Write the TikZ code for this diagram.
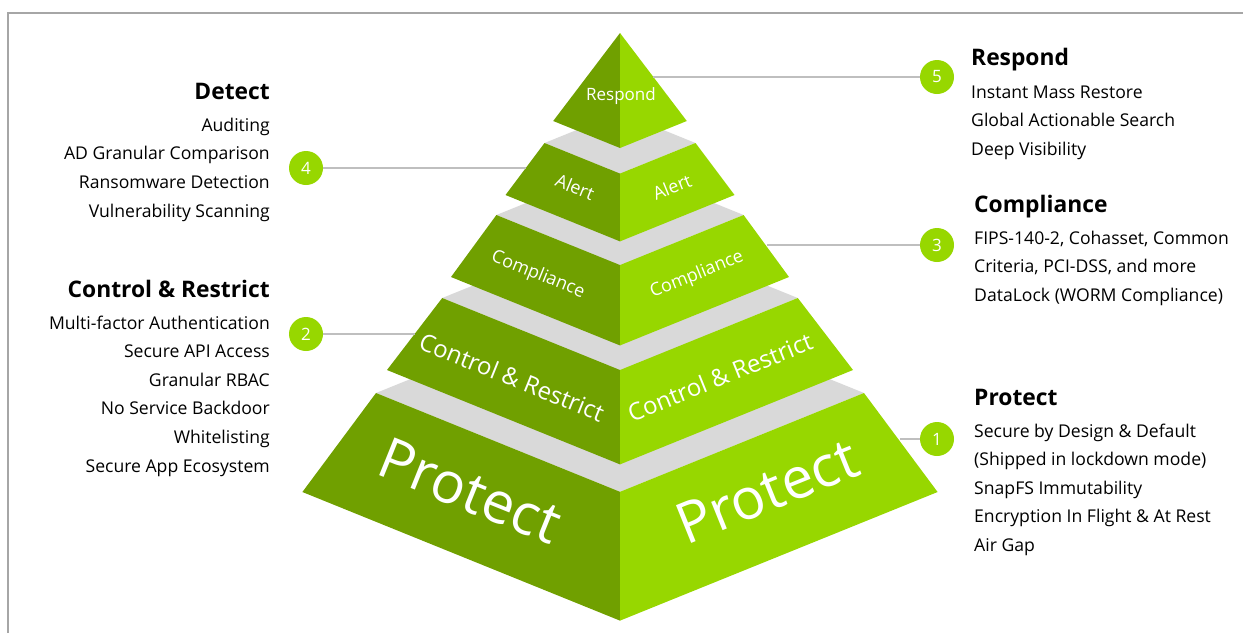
\documentclass[tikz,border=0pt]{standalone}
\usepackage{fontspec}
\setmainfont{Open Sans}
\definecolor{gdark}{HTML}{70A000}
\definecolor{glight}{HTML}{97D700}
\definecolor{gtop}{HTML}{D9D9D9}
\definecolor{gline}{HTML}{BFBFBF}
\definecolor{gframe}{HTML}{A6A6A6}
\newcommand\pyrlayer[4]{%
  \pgfmathsetmacro\pyT{#1}\pgfmathsetmacro\pyTY{#2}%
  \pgfmathsetmacro\pyB{#3}\pgfmathsetmacro\pyBY{#4}%
  \fill[topface] ({620-\pyT},\pyTY) -- (620,{\pyTY-0.405*\pyT}) -- ({620+\pyT},\pyTY) -- (620,{\pyTY+0.405*\pyT}) -- cycle;
  \fill[leftface] ({620-\pyT},\pyTY) -- (620,{\pyTY+0.405*\pyT}) -- (620,{\pyBY+0.405*\pyB}) -- ({620-\pyB},\pyBY) -- cycle;
  \fill[rightface] ({620+\pyT},\pyTY) -- (620,{\pyTY+0.405*\pyT}) -- (620,{\pyBY+0.405*\pyB}) -- ({620+\pyB},\pyBY) -- cycle;
}
\begin{document}
\begin{tikzpicture}[x=1pt,y=-1pt,
  topface/.style={fill=gtop},
  leftface/.style={fill=gdark},
  rightface/.style={fill=glight},
  face/.style={text=white,inner sep=0pt},
  num/.style={circle,fill=glight,minimum size=34pt,inner sep=0pt,text=white,font=\fontsize{17}{19}\selectfont},
  conn/.style={draw=gline,line width=2pt},
  head/.style={font=\fontsize{22.8}{26}\selectfont\bfseries,inner sep=0pt,text height=16pt,text depth=5pt},
  item/.style={font=\fontsize{17.6}{20}\selectfont,inner sep=0pt,text height=12pt,text depth=4pt},
  frame/.style={draw=gframe,line width=1.5pt}]
\useasboundingbox (0,0) rectangle (1243,633);
\draw[frame] (8,633) -- (8,13) -- (1243,13);
% pyramid, bottom to top
\pyrlayer{244}{393}{317.6}{492}
\pyrlayer{177.8}{298}{233}{370}
\pyrlayer{123.6}{215}{169}{277}
\pyrlayer{75.5}{143}{114.5}{195}
\fill[leftface] (620,33) -- (553.2,121) -- (620,148) -- cycle;
\fill[rightface] (620,33) -- (686.8,121) -- (620,148) -- cycle;
% face labels
\node[face,font=\fontsize{17}{20}\selectfont] (lr) at (621,96) {Respond};
\node[face,font=\fontsize{18}{20}\selectfont,rotate=-22] (la1) at (575,187) {Alert};
\node[face,font=\fontsize{18}{20}\selectfont,rotate=22] (la2) at (672,187) {Alert};
\node[face,font=\fontsize{18}{20}\selectfont,rotate=-22] (lc1) at (538,275) {Compliance};
\node[face,font=\fontsize{18}{20}\selectfont,rotate=22] (lc2) at (697,275) {Compliance};
\node[face,font=\fontsize{24}{28}\selectfont,rotate=-22] (lk1) at (512,377) {Control \& Restrict};
\node[face,font=\fontsize{24}{28}\selectfont,rotate=22] (lk2) at (720,377) {Control \& Restrict};
\node[face,font=\fontsize{57}{60}\selectfont,rotate=-22] (lp1) at (470,491) {Protect};
\node[face,font=\fontsize{57}{60}\selectfont,rotate=22] (lp2) at (767,491) {Protect};
% circles and connectors
\node[num] (c5) at (937,77) {5};
\node[num] (c4) at (306,168) {4};
\node[num] (c3) at (937,245) {3};
\node[num] (c2) at (306,334) {2};
\node[num] (c1) at (937,439) {1};
\coordinate (e5) at (653,77);
\coordinate (e4) at (525.5,168);
\coordinate (e3) at (767,245);
\coordinate (e2) at (414.5,334);
\coordinate (e1) at (900,439);
\draw[conn] (c5) -- (e5);
\draw[conn] (c4) -- (e4);
\draw[conn] (c3) -- (e3);
\draw[conn] (c2) -- (e2);
\draw[conn] (c1) -- (e1);
% left texts
\node[head,anchor=east] (hdet) at (270,94) {Detect};
\foreach \t [count=\i] in {Auditing, AD Granular Comparison, Ransomware Detection, Vulnerability Scanning}
  \node[item,anchor=east] (det\i) at (270,{127+28.7*(\i-1)}) {\t};
\node[head,anchor=east] (hcon) at (270,292) {Control \& Restrict};
\foreach \t [count=\i] in {Multi-factor Authentication, Secure API Access, Granular RBAC, No Service Backdoor, Whitelisting, Secure App Ecosystem}
  \node[item,anchor=east] (con\i) at (270,{325+28.6*(\i-1)}) {\t};
% right texts
\node[head,anchor=west] (hres) at (971,60) {Respond};
\foreach \t [count=\i] in {Instant Mass Restore, Global Actionable Search, Deep Visibility}
  \node[item,anchor=west] (res\i) at (971,{94+28.7*(\i-1)}) {\t};
\node[head,anchor=west] (hcom) at (974,207) {Compliance};
\foreach \t [count=\i] in {{FIPS-140-2, Cohasset, Common}, {Criteria, PCI-DSS, and more}, {DataLock (WORM Compliance)}}
  \node[item,anchor=west] (com\i) at (974,{240+28.7*(\i-1)}) {\t};
\node[head,anchor=west] (hpro) at (974,400) {Protect};
\foreach \t [count=\i] in {Secure by Design \& Default, (Shipped in lockdown mode), SnapFS Immutability, Encryption In Flight \& At Rest, Air Gap}
  \node[item,anchor=west] (pro\i) at (974,{433+28.6*(\i-1)}) {\t};
\end{tikzpicture}
\end{document}
